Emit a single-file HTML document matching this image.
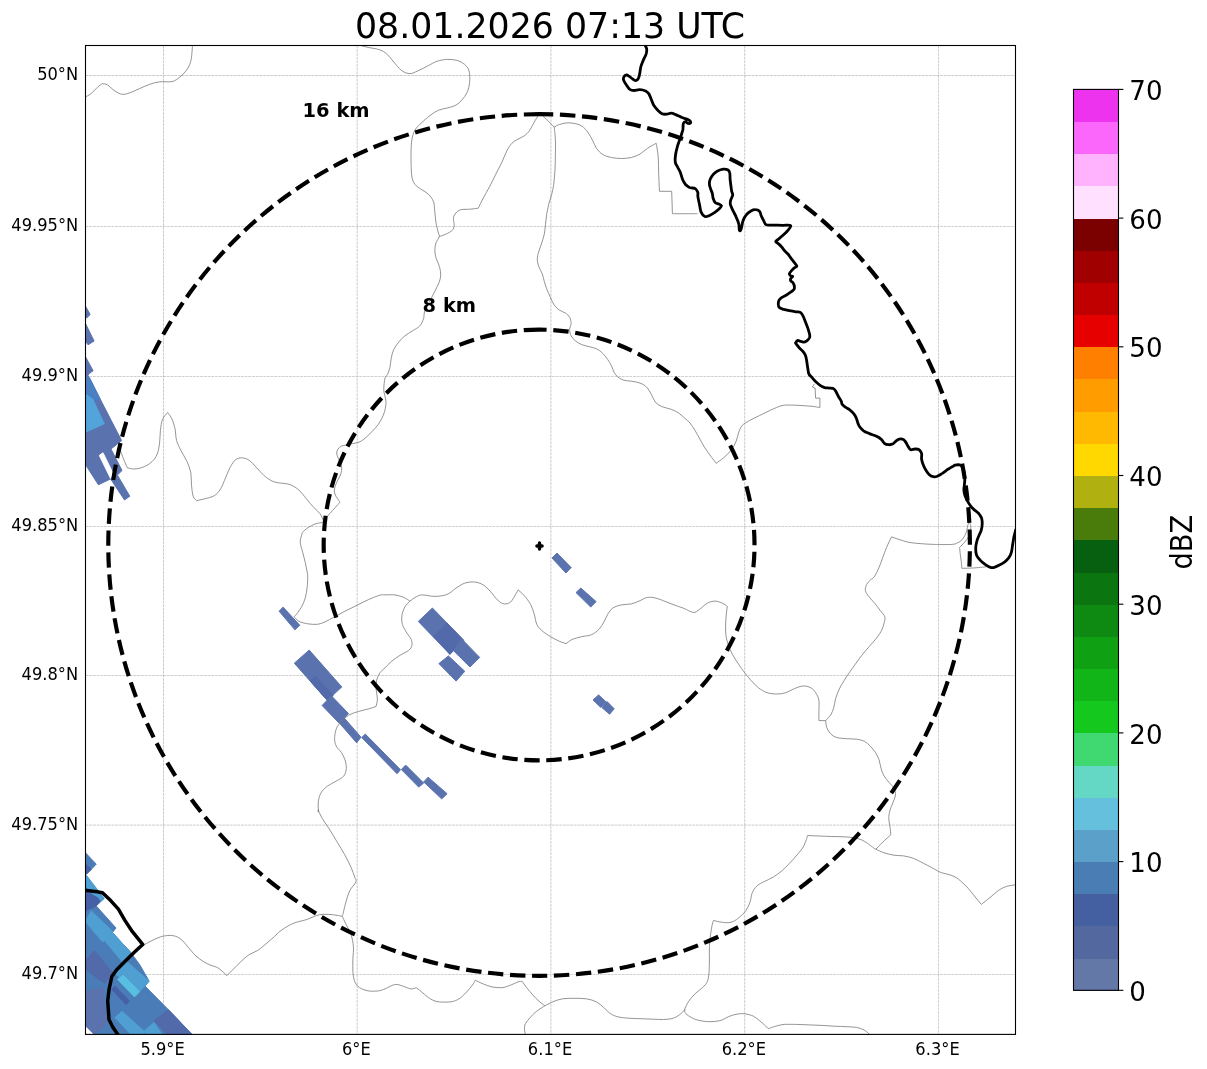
<!DOCTYPE html>
<html><head><meta charset="utf-8"><title>Radar 08.01.2026 07:13 UTC</title>
<style>
html,body{margin:0;padding:0;background:#fff;}
body{width:1207px;height:1069px;overflow:hidden;}
svg{display:block}
text{font-family:"DejaVu Sans","Liberation Sans",sans-serif;fill:#000}
.tk{font-size:18px}
.cb{font-size:27.3px}
.ring{fill:none;stroke:#000;stroke-width:4.17;stroke-dasharray:15.42 6.67}
.adm{fill:none;stroke:#787878;stroke-width:0.8;stroke-linejoin:round}
.nat{fill:none;stroke:#000;stroke-width:2.8;stroke-linejoin:round;stroke-linecap:butt}
.grid{stroke:#a4a4a4;stroke-width:0.7;stroke-dasharray:2.9 0.8;opacity:.8}
</style></head><body>
<svg width="1207" height="1069" viewBox="0 0 1207 1069">
<rect width="1207" height="1069" fill="#fff"/>
<defs><clipPath id="ax"><rect x="85.5" y="45.5" width="930.0" height="988.9000000000001"/></clipPath></defs>
<g clip-path="url(#ax)">

<line class="grid" x1="163.5" y1="45.5" x2="163.5" y2="1034.4"/>
<line class="grid" x1="357.2" y1="45.5" x2="357.2" y2="1034.4"/>
<line class="grid" x1="550.9" y1="45.5" x2="550.9" y2="1034.4"/>
<line class="grid" x1="744.7" y1="45.5" x2="744.7" y2="1034.4"/>
<line class="grid" x1="938.4" y1="45.5" x2="938.4" y2="1034.4"/>
<line class="grid" x1="85.5" y1="75.5" x2="1015.5" y2="75.5"/>
<line class="grid" x1="85.5" y1="226.4" x2="1015.5" y2="226.4"/>
<line class="grid" x1="85.5" y1="376.4" x2="1015.5" y2="376.4"/>
<line class="grid" x1="85.5" y1="526.4" x2="1015.5" y2="526.4"/>
<line class="grid" x1="85.5" y1="675.4" x2="1015.5" y2="675.4"/>
<line class="grid" x1="85.5" y1="825.1" x2="1015.5" y2="825.1"/>
<line class="grid" x1="85.5" y1="974.4" x2="1015.5" y2="974.4"/>
<polygon points="283.1,607.1 299.8,625.3 294.9,629.8 279.1,611.2" fill="#5a73af" stroke="#5a73af" stroke-width="1.0" stroke-linejoin="round"/>
<polygon points="309.2,650.1 341.8,687.0 327.2,700.3 294.3,663.2" fill="#5a73af" stroke="#5a73af" stroke-width="1.0" stroke-linejoin="round"/>
<polygon points="315.6,676.0 333.2,695.7 327.2,700.3 310.1,680.9" fill="#526aaa" stroke="#526aaa" stroke-width="1.0" stroke-linejoin="round"/>
<polygon points="331.4,695.8 348.5,713.6 339.2,723.2 322.1,705.5" fill="#5a73af" stroke="#5a73af" stroke-width="1.0" stroke-linejoin="round"/>
<polygon points="344.2,717.9 361.0,737.2 356.6,742.8 339.8,723.5" fill="#5a73af" stroke="#5a73af" stroke-width="1.0" stroke-linejoin="round"/>
<polygon points="365.3,734.1 400.5,769.7 397.1,773.8 361.7,737.5" fill="#5a73af" stroke="#5a73af" stroke-width="1.0" stroke-linejoin="round"/>
<polygon points="405.7,765.1 423.7,783.1 418.7,787.1 401.3,769.5" fill="#5a73af" stroke="#5a73af" stroke-width="1.0" stroke-linejoin="round"/>
<polygon points="428.1,777.2 447.1,793.7 441.7,798.9 423.7,781.9" fill="#5a73af" stroke="#5a73af" stroke-width="1.0" stroke-linejoin="round"/>
<polygon points="432.4,608.0 463.8,640.4 449.9,654.3 418.3,621.4" fill="#5a73af" stroke="#5a73af" stroke-width="1.0" stroke-linejoin="round"/>
<polygon points="446.8,622.9 463.3,639.9 449.9,654.3 434.0,636.3" fill="#526aaa" stroke="#526aaa" stroke-width="1.0" stroke-linejoin="round"/>
<polygon points="461.7,638.9 479.7,657.4 470.0,667.0 453.5,650.7" fill="#5a73af" stroke="#5a73af" stroke-width="1.0" stroke-linejoin="round"/>
<polygon points="448.4,655.9 464.8,671.3 456.1,681.1 438.9,663.6" fill="#5a73af" stroke="#5a73af" stroke-width="1.0" stroke-linejoin="round"/>
<polygon points="557.0,553.1 571.2,567.6 565.9,573.0 552.0,558.0" fill="#5a73af" stroke="#5a73af" stroke-width="1.0" stroke-linejoin="round"/>
<polygon points="580.8,588.0 596.1,601.6 590.8,607.1 576.0,592.6" fill="#5a73af" stroke="#5a73af" stroke-width="1.0" stroke-linejoin="round"/>
<polygon points="598.6,694.9 606.3,702.1 600.6,707.3 593.0,699.9" fill="#5a73af" stroke="#5a73af" stroke-width="1.0" stroke-linejoin="round"/>
<polygon points="607.1,701.6 614.2,708.8 609.6,714.2 601.9,707.6" fill="#5a73af" stroke="#5a73af" stroke-width="1.0" stroke-linejoin="round"/>
<polygon points="85.1,305.4 90.1,314.4 87.0,317.8 85.1,317.3" fill="#5a73af" stroke="#5a73af" stroke-width="1.0" stroke-linejoin="round"/>
<polygon points="85.1,322.7 94.1,341.1 88.0,344.8 85.1,340.4" fill="#5a73af" stroke="#5a73af" stroke-width="1.0" stroke-linejoin="round"/>
<polygon points="85.1,355.9 93.1,370.8 89.3,373.4 88.0,375.4 85.1,375.4" fill="#5a73af" stroke="#5a73af" stroke-width="1.0" stroke-linejoin="round"/>
<polygon points="85.0,375.0 88.0,375.4 121.6,440.6 111.0,449.0 122.0,470.5 117.4,475.1 129.8,496.2 124.5,500.0 110.6,478.9 98.4,484.8 85.0,463.8" fill="#5a73af" stroke="#5a73af" stroke-width="1.0" stroke-linejoin="round"/>
<polygon points="85.0,377.5 89.7,378.1 100.6,400.1 92.8,399.1 85.0,393.9" fill="#4a7fc2" stroke="#4a7fc2" stroke-width="1.0" stroke-linejoin="round"/>
<polygon points="85.0,393.9 92.8,399.1 104.3,423.8 85.0,432.4" fill="#52a4da" stroke="#52a4da" stroke-width="1.0" stroke-linejoin="round"/>
<polygon points="99.3,455.4 103.0,452.8 112.7,472.6 110.6,478.5" fill="#ffffff" stroke="#ffffff" stroke-width="1.0" stroke-linejoin="round"/>
<polygon points="85.1,852.3 96.2,864.2 86.6,874.0 85.1,872.9" fill="#4a7db8" stroke="#4a7db8" stroke-width="1.0" stroke-linejoin="round"/>
<polygon points="85.1,863.7 91.3,869.3 86.6,874.0 85.1,872.9" fill="#4560a6" stroke="#4560a6" stroke-width="1.0" stroke-linejoin="round"/>
<polygon points="85.1,875.0 104.1,898.4 96.2,905.9 116.0,928.0 112.4,932.6 130.4,952.1 139.6,964.5 149.1,981.1 145.0,986.1 168.4,1009.7 192.6,1035.0 94.9,1035.0 85.1,1025.2" fill="#4a7db8" stroke="#4a7db8" stroke-width="1.0" stroke-linejoin="round"/>
<polygon points="85.1,875.5 86.6,875.5 104.1,898.4 100.5,901.7 85.1,886.3" fill="#4f9fd2" stroke="#4f9fd2" stroke-width="1.0" stroke-linejoin="round"/>
<polygon points="85.1,891.5 97.4,897.6 100.0,900.7 96.2,905.9 85.1,911.0" fill="#4560a6" stroke="#4560a6" stroke-width="1.0" stroke-linejoin="round"/>
<polygon points="85.1,921.3 91.3,911.0 112.9,931.6 102.6,941.9" fill="#4f9fd2" stroke="#4f9fd2" stroke-width="1.0" stroke-linejoin="round"/>
<polygon points="103.6,939.3 112.9,933.1 130.4,952.1 123.2,962.9" fill="#4f9fd2" stroke="#4f9fd2" stroke-width="1.0" stroke-linejoin="round"/>
<polygon points="126.2,960.9 149.1,981.1 137.6,993.8 114.9,973.2" fill="#4f9fd2" stroke="#4f9fd2" stroke-width="1.0" stroke-linejoin="round"/>
<polygon points="123.2,975.3 139.6,991.7 134.5,996.9 117.5,979.4" fill="#58bfe0" stroke="#58bfe0" stroke-width="1.0" stroke-linejoin="round"/>
<polygon points="114.9,986.1 129.3,1001.0 126.2,1004.6 111.8,989.7" fill="#4560a6" stroke="#4560a6" stroke-width="1.0" stroke-linejoin="round"/>
<polygon points="154.0,1020.6 168.4,1009.7 192.6,1035.0 167.4,1035.0" fill="#526aaa" stroke="#526aaa" stroke-width="1.0" stroke-linejoin="round"/>
<polygon points="122.1,1011.3 144.8,1031.9 142.2,1035.0 131.4,1035.0 114.9,1017.5" fill="#4f9fd2" stroke="#4f9fd2" stroke-width="1.0" stroke-linejoin="round"/>
<polygon points="143.7,1031.4 154.0,1022.6 161.2,1032.9 160.2,1035.0 146.8,1035.0" fill="#4f9fd2" stroke="#4f9fd2" stroke-width="1.0" stroke-linejoin="round"/>
<polygon points="85.1,991.7 102.6,987.6 107.7,1022.6 94.9,1035.0 85.1,1025.2" fill="#5a73af" stroke="#5a73af" stroke-width="1.0" stroke-linejoin="round"/>
<polygon points="85.1,960.9 94.3,950.6 112.9,973.2 104.6,983.5 85.1,969.1" fill="#526aaa" stroke="#526aaa" stroke-width="1.0" stroke-linejoin="round"/>
<path class="adm" d="M85.0,97.3C86.0,96.6 89.1,95.2 91.2,93.5C93.3,91.9 95.6,89.0 97.4,87.3C99.3,85.6 101.6,84.2 102.4,83.6C103.2,83.8 105.3,83.6 107.4,84.8C109.5,86.1 112.4,89.5 114.9,91.0C117.3,92.6 119.8,94.0 122.3,94.3C124.8,94.6 126.9,93.7 129.8,92.8C132.7,91.8 136.4,90.0 139.7,88.5C143.1,87.1 146.4,85.4 149.7,84.3C153.0,83.2 155.9,82.3 159.6,81.8C163.4,81.4 168.8,82.3 172.1,81.6C175.4,80.8 177.3,79.1 179.6,77.3C181.8,75.6 184.1,73.2 185.8,71.1C187.4,69.1 188.6,67.2 189.5,64.9C190.5,62.6 191.0,60.8 191.5,57.4C192.0,54.1 192.3,47.1 192.5,45.0"/>
<path class="adm" d="M358.7,45.0C360.4,45.4 365.3,46.7 368.7,47.5C372.0,48.2 375.9,48.6 378.6,49.5C381.3,50.3 383.1,51.1 385.0,52.5C386.9,53.8 388.1,55.4 390.0,57.4C391.8,59.5 394.1,62.6 396.2,64.9C398.3,67.2 400.1,69.7 402.4,71.1C404.7,72.6 407.4,73.6 409.9,73.6C412.4,73.6 414.4,72.4 417.3,71.1C420.3,69.9 424.0,67.8 427.3,66.2C430.6,64.5 433.9,62.3 437.3,61.2C440.6,60.1 443.9,59.6 447.2,59.4C450.5,59.3 454.3,59.6 457.2,60.4C460.1,61.3 462.6,62.6 464.6,64.4C466.6,66.2 468.3,68.1 469.1,71.1C469.9,74.1 469.9,78.8 469.6,82.3C469.3,85.8 468.4,89.4 467.1,92.3C465.9,95.2 464.0,97.6 462.1,99.7C460.3,101.9 458.4,103.8 455.9,105.2C453.4,106.6 450.1,107.1 447.2,108.0C444.3,108.8 441.2,109.1 438.5,110.2C435.8,111.3 433.5,112.9 431.0,114.7C428.5,116.5 426.1,118.6 423.6,120.9C421.1,123.2 418.0,125.7 416.1,128.4C414.2,131.1 413.2,133.5 412.4,137.1C411.5,140.6 411.3,144.9 411.1,149.5C410.9,154.1 411.0,159.9 411.1,164.4C411.3,169.0 411.3,173.6 411.9,176.9C412.5,180.2 413.3,182.3 414.9,184.3C416.4,186.4 418.8,187.7 421.1,189.3C423.4,191.0 426.5,192.2 428.5,194.3C430.6,196.4 432.5,198.9 433.5,201.8C434.6,204.7 434.4,208.2 434.8,211.7C435.2,215.2 435.5,219.6 436.0,222.9C436.5,226.2 437.5,229.3 438.0,231.6C438.5,233.9 439.6,234.7 439.2,236.6C438.9,238.5 436.8,240.5 436.0,242.8C435.3,245.1 434.8,247.8 434.8,250.3C434.8,252.8 435.4,255.5 436.0,257.8C436.6,260.0 437.8,261.7 438.5,264.0C439.2,266.3 440.2,268.9 440.5,271.4C440.8,273.9 440.8,276.4 440.2,278.9C439.7,281.4 438.4,283.9 437.3,286.4C436.1,288.9 434.6,291.8 433.5,293.8C432.5,295.9 432.5,295.9 431.0,298.8C429.6,301.7 426.1,307.7 424.8,311.0C423.6,314.3 424.4,316.0 423.6,318.5C422.7,321.0 421.7,323.9 419.8,325.9C418.0,328.0 414.9,329.2 412.4,330.9C409.9,332.6 407.2,334.0 404.9,335.9C402.6,337.7 400.6,339.8 398.7,342.1C396.8,344.4 395.0,346.9 393.7,349.6C392.5,352.3 391.8,355.4 391.2,358.3C390.6,361.2 390.6,364.3 390.0,367.0C389.4,369.7 388.3,372.6 387.5,374.5C386.7,376.3 385.6,375.6 385.0,378.2C384.4,380.8 383.7,386.4 383.8,390.0C383.9,393.6 385.5,397.5 385.8,400.0C386.1,402.5 386.0,403.3 385.8,405.2C385.6,407.2 385.1,409.6 384.5,411.8C383.8,414.0 382.9,416.2 381.9,418.3C380.8,420.5 379.5,422.8 377.9,424.9C376.4,427.0 374.5,428.8 372.7,430.8C370.8,432.7 368.8,434.9 366.8,436.7C364.8,438.4 362.9,440.2 360.9,441.3C358.9,442.3 356.9,442.8 355.0,443.2C353.1,443.7 351.4,443.5 349.8,443.9C348.1,444.2 346.6,444.8 345.2,445.2C343.8,445.6 342.5,445.4 341.3,446.1C340.1,446.8 338.7,448.0 338.0,449.1C337.2,450.3 336.7,451.6 336.7,453.0C336.7,454.5 337.4,456.2 338.0,457.6C338.5,459.0 339.4,460.2 339.9,461.6C340.5,462.9 341.0,464.0 341.3,465.5C341.5,467.0 341.9,469.0 341.6,470.7C341.4,472.5 340.7,474.2 339.9,476.0C339.2,477.7 338.1,479.5 337.3,481.2C336.5,482.9 335.6,484.7 335.1,486.4C334.6,488.2 334.2,490.0 334.3,491.7C334.5,493.3 335.3,494.8 336.0,496.3C336.7,497.7 338.0,499.2 338.6,500.2C339.3,501.2 339.7,501.8 339.9,502.2C339.2,503.0 337.0,505.5 335.4,507.4C333.7,509.2 331.6,511.6 330.1,513.3C328.6,514.9 327.3,515.9 326.2,517.2C325.1,518.5 324.0,520.5 323.6,521.1"/>
<path class="adm" d="M439.2,236.6C440.4,236.2 443.8,235.1 446.0,234.1C448.1,233.1 450.8,231.8 452.2,230.4C453.6,228.9 454.0,227.5 454.2,225.4C454.4,223.3 453.1,220.0 453.4,217.9C453.7,215.9 454.7,214.3 455.9,213.0C457.2,211.6 458.6,210.3 460.9,209.7C463.2,209.1 466.7,209.5 469.6,209.2C472.5,209.0 476.9,208.4 478.3,208.2C479.1,206.5 481.4,201.6 483.3,198.0C485.2,194.5 487.4,190.8 489.5,186.8C491.6,182.9 493.7,178.5 495.7,174.4C497.8,170.2 500.1,165.9 502.0,162.0C503.8,158.0 505.3,153.9 506.9,150.8C508.6,147.6 510.0,145.2 511.9,143.3C513.8,141.3 516.1,140.3 518.1,139.1C520.2,137.8 522.5,137.2 524.3,135.8C526.2,134.5 527.7,133.1 529.3,130.8C531.0,128.6 532.8,124.6 534.3,122.1C535.7,119.6 537.0,117.4 538.0,115.9C539.1,114.5 540.1,113.8 540.5,113.4C541.6,114.5 544.5,117.4 546.7,119.6C549.0,121.9 553.0,125.9 554.2,127.1"/>
<path class="adm" d="M554.2,127.1C555.0,126.7 557.1,125.3 559.2,124.6C561.3,123.9 564.2,123.1 566.6,122.9C569.1,122.7 571.6,122.9 574.1,123.4C576.6,123.9 579.3,124.4 581.6,125.9C583.9,127.3 585.9,129.6 587.8,132.1C589.7,134.6 591.3,138.1 592.8,140.8C594.2,143.5 594.8,146.0 596.5,148.3C598.2,150.5 600.2,153.0 602.7,154.5C605.2,156.0 608.3,156.8 611.4,157.5C614.5,158.1 618.1,158.5 621.4,158.5C624.7,158.5 628.2,158.2 631.3,157.5C634.5,156.7 637.4,155.5 640.1,154.0C642.7,152.5 644.8,150.0 647.5,148.3C650.2,146.5 654.8,144.1 656.2,143.3C656.6,145.6 657.8,151.8 658.2,157.0C658.6,162.2 658.5,168.7 658.7,174.4C658.9,180.1 659.3,188.5 659.5,191.3L671.7,191.3L672.4,213.7C674.5,213.7 680.9,213.7 685.1,213.7C689.3,213.7 695.4,213.7 697.5,213.7"/>
<path class="adm" d="M554.2,127.1C554.4,129.2 555.2,135.0 555.4,139.6C555.7,144.1 555.5,149.5 555.4,154.5C555.4,159.5 555.2,164.4 555.0,169.4C554.7,174.4 554.2,180.2 553.7,184.3C553.2,188.5 552.5,191.0 551.7,194.3C550.9,197.6 549.6,200.9 548.7,204.3C547.9,207.6 547.3,210.9 546.7,214.2C546.2,217.5 545.9,220.8 545.5,224.2C545.1,227.5 544.9,231.0 544.3,234.1C543.6,237.2 542.7,239.9 541.8,242.8C540.9,245.7 539.5,248.8 538.8,251.5C538.0,254.2 537.3,256.5 537.3,259.0C537.3,261.5 537.9,264.0 538.8,266.5C539.6,268.9 541.3,271.4 542.3,273.9C543.2,276.4 543.5,278.9 544.3,281.4C545.0,283.9 545.7,286.2 546.7,288.9C547.8,291.5 549.2,294.9 550.5,297.6C551.7,300.3 552.8,303.0 554.2,305.0C555.7,307.1 557.3,308.7 559.2,310.0C561.0,311.3 563.7,311.8 565.4,313.0C567.1,314.2 568.7,315.5 569.6,317.2C570.6,319.0 571.1,321.4 571.1,323.4C571.1,325.5 569.6,327.6 569.6,329.7C569.6,331.7 570.2,334.0 571.1,335.9C572.1,337.7 573.6,339.4 575.4,340.9C577.1,342.3 579.3,343.6 581.6,344.6C583.9,345.5 586.6,345.9 589.0,346.6C591.5,347.3 594.2,347.7 596.5,348.8C598.8,349.9 600.9,351.5 602.7,353.3C604.6,355.1 606.3,357.4 607.7,359.5C609.2,361.6 610.4,363.7 611.4,365.7C612.5,367.8 612.9,370.1 613.9,372.0C615.0,373.8 616.0,375.6 617.7,376.9C619.3,378.3 621.6,379.5 623.9,380.2C626.2,380.9 628.9,380.8 631.3,381.2C633.8,381.6 636.5,381.9 638.8,382.7C641.1,383.4 643.3,384.3 645.0,385.6C646.8,387.0 648.0,388.8 649.3,390.6C650.5,392.5 651.3,394.8 652.5,396.8C653.7,398.9 654.6,401.4 656.2,403.1C657.9,404.7 660.0,405.8 662.4,406.8C664.9,407.8 668.5,408.3 671.2,409.3C673.9,410.3 676.3,411.5 678.6,413.0C680.9,414.6 683.2,416.8 685.1,418.5C687.0,420.2 688.3,421.0 690.0,423.0C691.6,425.0 693.3,427.7 695.0,430.4C696.6,433.1 698.3,436.2 699.9,439.1C701.6,442.1 703.0,445.0 704.9,447.9C706.8,450.8 709.3,454.0 711.1,456.6C713.0,459.1 715.3,462.2 716.1,463.3C717.3,462.4 721.1,460.0 723.6,457.8C726.1,455.7 729.0,453.0 731.0,450.3C733.1,447.6 734.8,444.5 736.0,441.6C737.3,438.7 737.5,435.6 738.5,432.9C739.5,430.2 740.4,427.5 742.2,425.5C744.1,423.4 746.8,422.1 749.7,420.5C752.6,418.8 756.1,417.3 759.6,415.5C763.2,413.8 767.1,411.7 770.8,410.0C774.6,408.4 778.5,406.4 782.0,405.6C785.6,404.7 788.7,405.1 792.0,405.1C795.3,405.1 798.6,405.3 802.0,405.6C805.3,405.8 808.9,406.0 811.9,406.3C814.9,406.6 818.5,407.3 819.9,407.5L819.9,398.1L815.6,398.1L815.1,388.1L812.4,386.9L814.4,383.9"/>
<path class="adm" d="M119.8,449.1C120.5,450.8 122.3,455.9 123.6,459.1C124.8,462.2 126.7,466.3 127.3,467.8C128.5,468.0 131.9,469.2 134.8,469.0C137.7,468.8 141.8,467.8 144.7,466.5C147.6,465.3 150.1,463.6 152.2,461.5C154.3,459.5 155.9,457.2 157.2,454.1C158.4,451.0 159.1,446.8 159.6,442.9C160.2,438.9 159.9,434.4 160.4,430.4C160.9,426.5 161.4,422.2 162.6,419.2C163.8,416.3 166.8,413.6 167.6,412.5C168.4,413.6 170.8,416.5 172.1,419.2C173.3,422.0 174.3,425.7 175.1,429.2C175.8,432.7 175.6,436.9 176.6,440.4C177.5,443.9 179.1,446.8 180.8,450.3C182.5,453.9 185.4,457.8 187.0,461.5C188.7,465.3 190.0,468.8 190.8,472.7C191.5,476.7 191.1,481.2 191.5,485.2C191.9,489.1 192.4,493.8 193.2,496.4C194.1,499.0 195.9,499.9 196.5,500.6C197.8,500.3 201.5,499.7 204.4,498.9C207.4,498.0 211.7,497.3 214.4,495.6C217.1,494.0 218.7,491.9 220.6,488.9C222.5,485.9 223.9,481.4 225.6,477.7C227.2,474.0 228.9,469.5 230.6,466.5C232.2,463.5 233.7,461.3 235.5,459.8C237.4,458.3 239.5,457.7 241.8,457.8C244.0,457.9 246.7,458.6 249.2,460.3C251.7,462.0 254.2,465.2 256.7,467.8C259.2,470.3 261.5,473.4 264.2,475.7C266.9,478.0 270.0,480.2 272.9,481.4C275.8,482.7 278.7,482.7 281.6,483.2C284.5,483.7 287.4,483.5 290.3,484.7C293.2,485.8 296.3,487.8 299.0,490.2C301.7,492.5 304.0,496.0 306.5,498.9C308.9,501.8 311.6,505.1 313.9,507.6C316.2,510.1 318.5,511.5 320.1,513.8C321.8,516.1 323.0,519.9 323.6,521.1"/>
<path class="adm" d="M323.6,521.1C323.4,521.4 323.6,522.0 322.3,522.5C321.0,522.9 318.1,522.9 315.7,523.8C313.3,524.6 310.0,526.3 307.9,527.7C305.7,529.1 303.6,531.3 302.6,532.3C301.6,533.3 302.4,532.0 302.0,533.7C301.6,535.4 300.1,539.3 300.2,542.4C300.4,545.5 301.9,549.0 302.7,552.4C303.6,555.7 304.5,559.2 305.2,562.3C305.9,565.4 306.5,568.6 307.0,571.0C307.4,573.5 307.7,574.3 307.7,577.0C307.7,579.7 307.6,583.4 307.2,587.0C306.8,590.5 306.2,594.8 305.2,598.2C304.3,601.5 302.9,604.2 301.5,606.9C300.0,609.6 297.8,612.7 296.5,614.3C295.3,616.0 294.4,616.4 294.0,616.8C294.8,617.6 296.7,620.1 299.0,621.3C301.3,622.5 304.6,623.3 307.7,623.8C310.8,624.3 314.8,624.6 317.7,624.3C320.6,623.9 322.4,623.0 325.1,621.8C327.8,620.6 330.7,619.0 333.8,617.3C336.9,615.7 340.5,613.6 343.8,611.8C347.1,610.1 350.4,608.5 353.7,606.9C357.1,605.2 360.4,603.5 363.7,601.9C367.0,600.3 370.7,598.6 373.6,597.4C376.5,596.2 379.2,595.3 381.1,594.9C383.0,594.5 382.7,594.9 385.0,594.9C387.3,594.9 391.8,594.5 395.0,594.9C398.1,595.3 401.2,596.4 403.7,597.4C406.2,598.4 408.8,600.5 409.9,601.1C410.9,600.4 414.0,597.9 416.1,596.9C418.2,595.9 419.2,595.0 422.3,594.9C425.4,594.8 430.6,596.5 434.8,596.4C438.9,596.3 443.7,595.8 447.2,594.4C450.7,593.0 453.0,590.1 455.9,588.2C458.8,586.3 461.5,584.3 464.6,583.2C467.7,582.2 471.5,581.7 474.6,582.0C477.7,582.3 480.6,583.3 483.3,585.0C486.0,586.6 488.3,589.3 490.8,591.9C493.2,594.5 495.9,598.6 498.2,600.6C500.5,602.6 502.4,603.7 504.4,603.9C506.5,604.1 508.8,603.5 510.7,601.9C512.5,600.3 514.4,596.4 515.6,594.4C516.9,592.4 517.7,590.7 518.1,589.9C519.2,590.9 522.3,593.3 524.3,595.7C526.4,598.1 528.9,601.3 530.6,604.4C532.2,607.5 533.3,611.0 534.3,614.3C535.3,617.6 535.5,621.6 536.8,624.3C538.0,627.0 539.5,628.4 541.8,630.5C544.0,632.6 547.6,634.9 550.5,636.7C553.4,638.5 556.6,640.0 559.2,641.2C561.8,642.4 565.0,643.3 566.1,643.7C567.1,643.0 569.1,640.9 571.6,639.7C574.2,638.5 578.3,637.5 581.6,636.7C584.9,635.9 588.6,636.0 591.5,634.7C594.4,633.5 596.9,631.4 599.0,629.3C601.1,627.1 602.5,624.3 604.0,621.8C605.4,619.3 606.3,616.6 607.7,614.3C609.2,612.0 610.4,609.7 612.7,608.1C615.0,606.5 618.3,605.6 621.4,604.9C624.5,604.2 628.2,604.6 631.3,603.9C634.5,603.2 637.4,601.7 640.1,600.6C642.7,599.6 644.8,597.8 647.5,597.4C650.2,597.0 653.1,597.4 656.2,598.2C659.3,598.9 662.9,600.6 666.2,601.9C669.5,603.1 673.0,604.5 676.1,605.6C679.3,606.8 682.8,607.9 685.1,608.9C687.4,609.8 688.3,610.8 690.0,611.3C691.6,611.9 693.1,612.9 695.0,612.3C696.8,611.8 699.1,609.6 701.2,608.1C703.2,606.6 705.1,604.3 707.4,603.1C709.7,602.0 712.4,601.1 714.9,601.1C717.3,601.1 720.3,602.3 722.3,603.1C724.4,604.0 726.5,605.8 727.3,606.4C727.1,608.1 726.3,613.4 726.1,616.8C725.8,620.2 725.6,623.4 725.6,626.8C725.6,630.1 725.6,633.6 726.1,636.7C726.6,639.8 727.5,642.5 728.5,645.4C729.6,648.3 730.6,651.0 732.3,654.1C733.9,657.2 736.4,661.0 738.5,664.1C740.6,667.2 742.6,670.1 744.7,672.8C746.8,675.5 748.7,677.8 750.9,680.3C753.2,682.8 755.7,685.7 758.4,687.7C761.1,689.8 764.0,691.7 767.1,692.7C770.2,693.7 774.0,694.0 777.1,694.0C780.2,694.0 782.9,693.6 785.8,692.7C788.7,691.8 791.6,689.6 794.5,688.5C797.4,687.4 800.5,686.1 803.2,686.0C805.9,685.9 808.6,686.6 810.7,687.7C812.7,688.8 814.3,690.6 815.6,692.7C817.0,694.8 818.3,697.1 818.9,700.2C819.4,703.3 818.9,708.0 818.9,711.4C818.9,714.8 818.9,719.0 818.9,720.6L825.6,720.6"/>
<path class="adm" d="M409.9,601.1C409.1,602.1 406.2,604.5 404.9,606.9C403.6,609.3 402.3,612.7 401.9,615.6C401.5,618.5 401.6,621.4 402.4,624.3C403.2,627.2 405.4,630.5 406.9,633.0C408.3,635.5 410.3,637.1 411.1,639.2C412.0,641.3 412.3,643.6 411.9,645.4C411.5,647.3 410.6,648.7 408.6,650.4C406.6,652.1 402.8,653.5 399.9,655.4C397.0,657.2 393.7,659.5 391.2,661.6C388.7,663.7 386.9,666.0 385.0,667.8C383.1,669.7 381.3,670.7 379.9,672.8C378.5,674.9 377.3,677.6 376.6,680.3C376.0,683.0 376.0,685.9 376.1,689.0C376.3,692.1 377.4,696.0 377.4,698.9C377.4,701.8 376.3,705.1 376.1,706.4C374.9,706.8 371.6,708.1 368.7,708.9C365.8,709.7 362.0,710.3 358.7,711.4C355.4,712.4 351.7,713.4 348.8,715.1C345.9,716.8 343.4,719.0 341.3,721.3C339.2,723.6 337.4,725.9 336.3,728.8C335.2,731.7 334.6,735.8 334.6,738.7C334.6,741.6 335.2,743.9 336.3,746.2C337.4,748.5 339.8,750.1 341.3,752.4C342.7,754.7 344.2,757.2 345.0,759.9C345.9,762.6 346.5,765.9 346.3,768.6C346.1,771.3 345.4,774.0 343.8,776.1C342.1,778.1 339.0,779.4 336.3,781.0C333.6,782.7 330.1,784.2 327.6,786.0C325.1,787.9 322.9,789.8 321.4,792.2C319.9,794.7 318.9,797.6 318.4,800.9C317.9,804.3 318.4,810.3 318.4,812.1L318.1,809.9C318.8,811.4 320.4,815.3 322.4,818.6C324.3,822.0 327.3,825.9 329.8,829.8C332.3,833.8 334.8,838.1 337.3,842.3C339.8,846.4 342.5,850.5 344.7,854.7C347.0,858.8 349.3,863.4 350.9,867.1C352.6,870.8 353.8,874.6 354.7,877.1C355.5,879.5 356.7,879.7 355.9,882.0C355.1,884.3 351.4,887.4 349.7,890.7C348.0,894.0 347.0,898.4 346.0,901.9C344.9,905.4 344.1,909.4 343.5,911.8C342.9,914.3 342.5,915.6 342.2,916.3"/>
<path class="adm" d="M825.6,720.6C826.4,719.7 829.2,717.3 830.6,715.1C831.9,712.9 833.0,710.3 833.8,707.6C834.6,704.9 834.6,702.0 835.5,698.9C836.5,695.8 837.8,692.1 839.3,689.0C840.7,685.9 842.6,683.0 844.3,680.3C845.9,677.6 847.4,675.5 849.2,672.8C851.1,670.1 853.4,667.0 855.4,664.1C857.5,661.2 859.4,658.3 861.7,655.4C864.0,652.5 866.6,649.6 869.1,646.7C871.6,643.8 874.5,640.7 876.6,638.0C878.7,635.3 880.3,633.0 881.6,630.5C882.8,628.0 883.5,625.3 884.1,623.0C884.6,620.8 885.4,618.9 884.8,616.8C884.2,614.7 882.0,612.9 880.3,610.6C878.6,608.3 876.5,605.4 874.6,603.1C872.7,600.8 870.7,599.0 869.1,596.9C867.6,594.8 865.8,592.8 865.4,590.7C865.0,588.6 865.8,586.2 866.6,584.5C867.5,582.7 869.1,581.2 870.4,580.0C871.6,578.7 872.7,579.1 874.1,577.0C875.6,574.9 877.6,570.6 879.1,567.3C880.5,564.0 881.6,560.7 882.8,557.3C884.1,554.0 885.1,550.8 886.6,547.4C888.0,544.0 890.7,538.7 891.5,536.9C892.8,537.4 896.1,538.5 899.0,539.4C901.9,540.3 905.2,541.7 908.9,542.4C912.7,543.1 917.2,543.3 921.4,543.7C925.5,544.0 930.8,544.3 933.8,544.4C936.8,544.5 936.2,544.5 939.3,544.5C942.4,544.5 949.3,544.7 952.4,544.4C955.4,544.1 956.1,543.5 957.6,542.8C959.2,542.1 960.4,541.4 961.6,540.2C962.8,539.0 964.0,537.2 964.8,535.6C965.7,534.0 966.3,532.1 966.8,530.4C967.3,528.6 967.4,526.4 967.8,525.1C968.2,523.9 968.9,523.2 969.1,522.8C969.4,523.1 970.2,523.4 970.5,524.5C970.7,525.5 970.9,527.4 970.7,529.1C970.5,530.7 970.1,532.5 969.4,534.3C968.8,536.0 967.9,537.9 966.8,539.5C965.7,541.2 964.1,542.8 962.9,544.1C961.7,545.4 960.1,546.8 959.6,547.4C959.7,548.5 960.0,551.5 960.2,553.9C960.5,556.3 961.0,559.4 961.3,561.8C961.6,564.2 961.7,567.3 961.8,568.3C963.7,568.3 969.2,568.2 973.3,568.0C977.4,567.7 984.3,567.0 986.4,566.8"/>
<path class="adm" d="M825.6,720.6C825.8,721.7 826.0,725.3 826.8,727.5C827.7,729.7 828.9,732.1 830.6,733.8C832.2,735.4 834.1,736.7 836.8,737.5C839.5,738.3 843.4,738.4 846.7,738.7C850.1,739.0 853.8,738.8 856.7,739.2C859.6,739.7 861.9,740.1 864.2,741.2C866.4,742.4 868.5,744.3 870.4,746.2C872.2,748.1 873.9,750.1 875.4,752.4C876.8,754.7 878.1,757.2 879.1,759.9C880.0,762.6 880.2,765.9 881.1,768.6C881.9,771.3 882.7,773.8 884.1,776.1C885.4,778.3 887.4,780.2 889.0,782.3C890.7,784.4 893.0,786.2 894.0,788.5C895.1,790.8 895.9,792.4 895.3,796.0C894.6,799.5 891.1,806.2 890.1,809.9C889.0,813.7 888.8,815.7 888.8,818.6C888.8,821.5 889.7,824.6 890.1,827.3C890.4,830.0 890.7,833.6 890.8,834.8C889.4,836.0 885.1,839.9 882.6,842.3C880.1,844.7 877.0,848.1 875.9,849.2"/>
<path class="adm" d="M685.0,1008.3C685.6,1007.1 687.1,1003.7 688.7,1001.3C690.4,998.9 692.7,996.1 694.9,993.9C697.2,991.6 700.3,989.7 702.4,987.7C704.5,985.6 706.3,984.1 707.4,981.4C708.5,978.7 708.8,975.2 709.1,971.5C709.4,967.8 709.3,963.2 709.4,959.1C709.4,954.9 709.2,950.8 709.4,946.6C709.6,942.5 710.1,937.9 710.6,934.2C711.1,930.5 711.8,926.6 712.3,924.3C712.8,922.0 713.4,921.2 713.6,920.5C715.0,920.8 719.4,922.0 722.3,922.3C725.2,922.6 728.3,923.0 731.0,922.3C733.7,921.6 736.0,920.0 738.4,918.1C740.9,916.1 743.9,913.3 745.9,910.6C747.8,907.9 749.1,904.8 750.1,901.9C751.2,899.0 750.9,895.9 752.1,893.2C753.3,890.5 755.0,887.7 757.1,885.7C759.2,883.8 761.8,883.0 764.5,881.5C767.2,880.1 770.3,878.8 773.2,877.1C776.1,875.3 779.2,873.1 781.9,870.8C784.6,868.6 786.9,866.0 789.4,863.4C791.9,860.8 794.6,857.9 796.8,855.2C799.1,852.5 801.5,849.8 803.1,847.2C804.6,844.7 805.5,841.7 806.3,839.8C807.0,837.8 807.3,836.2 807.5,835.5C809.5,835.6 815.2,835.9 819.2,836.0C823.2,836.2 827.5,836.4 831.6,836.5C835.8,836.7 840.3,836.6 844.1,836.8C847.8,837.0 851.1,837.3 854.0,837.8C856.9,838.3 859.2,838.8 861.5,839.8C863.7,840.7 865.8,842.3 867.7,843.5C869.5,844.7 871.3,846.3 872.7,847.2C874.0,848.2 874.0,848.3 875.9,849.2C877.8,850.1 880.9,851.7 883.8,852.7C886.8,853.7 890.5,854.6 893.8,855.2C897.1,855.7 900.4,855.4 903.7,855.9C907.0,856.5 910.4,857.2 913.7,858.4C917.0,859.7 920.6,861.9 923.6,863.4C926.6,864.9 928.6,865.9 931.4,867.4C934.2,868.8 937.8,871.2 940.4,872.3C943.0,873.4 944.7,873.3 947.1,874.1C949.6,874.8 952.6,875.5 955.0,876.8C957.4,878.1 959.5,880.0 961.7,881.9C964.0,883.9 966.2,886.2 968.5,888.7C970.7,891.2 973.1,894.4 975.2,897.0C977.3,899.6 980.3,903.2 981.3,904.4C982.7,903.3 986.9,900.0 989.8,897.7C992.7,895.3 996.0,892.1 998.8,890.3C1001.6,888.4 1003.6,887.4 1006.6,886.4C1009.6,885.5 1015.1,884.9 1016.7,884.6"/>
<path class="adm" d="M685.0,1008.3C685.0,1009.0 684.2,1011.1 685.0,1012.5C685.8,1013.9 687.9,1015.5 690.0,1016.7C692.0,1018.0 694.3,1019.1 697.4,1020.0C700.5,1020.8 704.9,1021.6 708.6,1021.7C712.3,1021.8 716.5,1021.5 719.8,1020.7C723.1,1019.9 725.8,1017.8 728.5,1016.7C731.2,1015.7 733.3,1014.7 736.0,1014.3C738.6,1013.8 741.8,1013.4 744.7,1013.8C747.6,1014.1 750.9,1015.1 753.4,1016.2C755.8,1017.4 757.7,1019.3 759.6,1020.7C761.4,1022.2 763.1,1023.6 764.5,1024.9C766.0,1026.3 767.6,1028.0 768.3,1028.7C769.5,1028.3 773.0,1026.9 775.7,1026.2C778.4,1025.5 780.9,1024.7 784.4,1024.4C787.9,1024.2 792.7,1024.4 796.8,1024.4C801.0,1024.5 805.1,1024.8 809.3,1024.9C813.4,1025.1 817.6,1025.2 821.7,1025.4C825.8,1025.6 830.0,1026.0 834.1,1026.2C838.3,1026.4 842.8,1026.5 846.6,1026.7C850.3,1026.9 853.6,1026.9 856.5,1027.4C859.4,1028.0 861.7,1028.7 864.0,1029.9C866.2,1031.2 869.1,1034.1 870.2,1034.9"/>
<path class="adm" d="M142.7,945.7C144.1,944.9 148.1,942.5 151.1,941.0C154.1,939.6 157.3,937.8 160.4,936.9C163.6,936.0 167.0,935.4 169.8,935.4C172.6,935.4 175.1,936.0 177.3,936.9C179.5,937.8 181.0,939.3 182.9,941.0C184.8,942.8 186.3,945.1 188.5,947.6C190.7,950.1 193.5,953.7 196.0,956.0C198.5,958.3 201.0,960.0 203.5,961.6C206.0,963.2 208.5,964.3 211.0,965.4C213.5,966.4 215.8,966.4 218.4,968.2C221.1,969.9 225.5,974.4 226.9,975.6C228.0,974.5 231.1,971.4 233.4,969.1C235.8,966.8 238.4,963.9 240.9,961.6C243.4,959.3 245.6,956.9 248.4,955.1C251.2,953.2 254.6,952.4 257.7,950.4C260.9,948.4 264.3,945.2 267.1,942.9C269.9,940.6 272.4,938.3 274.6,936.4C276.7,934.4 277.6,933.1 280.0,931.3C282.4,929.5 286.1,927.0 288.8,925.5C291.5,924.0 293.2,923.3 296.3,922.3C299.4,921.3 304.1,920.4 307.5,919.3C310.8,918.2 313.5,916.4 316.2,915.6C318.8,914.7 320.7,914.5 323.6,914.3C326.5,914.2 330.4,914.5 333.6,914.8C336.7,915.2 340.8,916.1 342.2,916.3C342.9,917.6 344.5,921.3 346.0,924.3C347.4,927.3 349.7,930.5 350.9,934.2C352.2,937.9 353.1,942.5 353.4,946.6C353.8,950.8 353.0,954.9 352.9,959.1C352.9,963.2 352.6,967.8 352.9,971.5C353.2,975.2 353.6,978.7 354.7,981.4C355.8,984.1 357.4,986.1 359.6,987.7C361.9,989.2 365.2,990.3 368.3,990.9C371.5,991.4 375.5,991.2 378.3,990.9C381.1,990.6 383.1,989.6 385.0,988.9C386.9,988.2 388.1,987.2 390.0,986.4C391.8,985.7 393.9,984.4 396.2,984.4C398.5,984.4 401.2,985.7 403.6,986.4C406.1,987.2 409.0,988.7 411.1,988.9C413.2,989.1 415.2,987.9 416.1,987.7C416.9,988.3 419.0,989.7 421.0,991.4C423.1,993.0 426.0,995.9 428.5,997.6C431.0,999.3 433.3,1000.6 436.0,1001.3C438.6,1002.1 441.8,1002.1 444.7,1002.1C447.6,1002.1 450.7,1002.1 453.4,1001.3C456.0,1000.6 458.3,999.5 460.8,997.6C463.3,995.7 466.2,992.4 468.3,990.1C470.3,987.9 472.1,985.6 473.2,983.9C474.4,982.3 474.9,980.8 475.2,980.2C476.5,980.8 480.4,982.8 483.2,983.9C486.0,985.0 488.8,986.3 491.9,986.9C495.0,987.5 498.7,987.9 501.8,987.7C504.9,987.4 507.8,986.1 510.5,985.2C513.2,984.2 516.0,982.6 518.0,981.9C519.9,981.3 521.5,981.5 522.2,981.4C522.9,982.5 524.9,985.4 526.7,987.7C528.5,989.9 530.8,992.8 532.9,995.1C535.0,997.4 537.1,999.5 539.1,1001.3C541.1,1003.1 543.9,1005.1 544.8,1005.8C546.4,1005.1 551.0,1002.5 554.0,1001.3C557.0,1000.2 559.4,999.3 562.7,998.8C566.0,998.3 570.0,998.3 573.9,998.3C577.8,998.3 582.6,998.3 586.3,998.8C590.1,999.4 593.4,1000.4 596.3,1001.8C599.2,1003.3 601.4,1005.6 603.7,1007.5C606.0,1009.4 607.7,1011.7 609.9,1013.3C612.2,1014.8 614.3,1015.9 617.4,1016.7C620.5,1017.6 624.6,1017.9 628.6,1018.2C632.5,1018.6 636.9,1018.6 641.0,1018.7C645.1,1018.9 649.7,1019.1 653.4,1019.2C657.2,1019.3 660.1,1019.6 663.4,1019.5C666.7,1019.3 670.4,1019.2 673.3,1018.2C676.2,1017.3 678.8,1015.2 680.8,1013.8C682.7,1012.3 684.3,1010.0 685.0,1009.3"/>
<path class="adm" d="M544.8,1005.8C543.5,1006.7 539.2,1009.1 536.6,1011.3C534.0,1013.4 531.1,1016.4 529.2,1018.7C527.2,1021.0 525.7,1022.9 524.9,1024.9C524.2,1027.0 524.5,1029.3 524.7,1031.2C524.9,1033.0 525.7,1035.3 525.9,1036.1"/>
<path class="nat" d="M645.1,45.0C645.3,45.7 646.6,47.6 646.7,49.1C646.9,50.6 646.6,52.3 646.1,54.1C645.5,55.9 644.3,57.8 643.4,59.9C642.6,62.0 641.5,64.3 640.9,66.5C640.3,68.7 640.2,71.2 639.8,73.1C639.4,75.1 639.1,77.2 638.4,78.4C637.8,79.7 636.8,80.7 635.6,80.6C634.5,80.5 632.9,79.0 631.5,78.1C630.1,77.2 628.5,75.5 627.3,75.1C626.2,74.8 625.0,75.3 624.4,76.1C623.7,76.9 623.2,78.3 623.5,79.8C623.8,81.2 625.1,83.1 626.2,84.7C627.2,86.3 628.5,88.4 629.8,89.4C631.1,90.3 632.3,90.5 634.0,90.5C635.6,90.6 637.8,89.6 639.8,89.7C641.7,89.8 644.0,90.3 645.6,91.0C647.1,91.7 647.9,92.4 648.9,93.9C649.8,95.3 650.5,97.7 651.4,99.7C652.2,101.6 652.7,103.7 653.9,105.5C655.0,107.2 656.6,109.0 658.0,110.4C659.4,111.8 660.8,113.1 662.1,113.7C663.5,114.4 664.8,114.3 666.3,114.2C667.8,114.2 669.6,113.1 671.3,113.2C672.9,113.3 674.4,114.2 676.2,114.9C678.0,115.6 680.1,116.8 682.0,117.5C684.0,118.3 686.4,118.9 687.8,119.5C689.2,120.1 689.9,120.6 690.3,121.2C690.7,121.8 690.7,122.8 690.3,123.2C689.9,123.5 688.6,123.6 687.8,123.3C687.0,123.1 686.1,121.6 685.3,121.7C684.6,121.7 683.8,122.4 683.3,123.7C682.9,125.0 683.2,127.5 682.9,129.5C682.5,131.4 681.8,133.3 681.2,135.3C680.6,137.2 679.9,139.0 679.2,141.1C678.5,143.1 677.7,145.2 677.1,147.7C676.4,150.2 675.7,153.5 675.4,156.0C675.1,158.5 675.0,160.7 675.4,162.6C675.8,164.6 677.1,165.9 677.9,167.6C678.7,169.2 679.6,170.6 680.4,172.6C681.1,174.5 681.7,177.3 682.5,179.2C683.3,181.1 684.2,182.8 685.3,184.2C686.5,185.5 687.8,186.7 689.5,187.5C691.1,188.2 693.9,187.8 695.3,188.6C696.7,189.5 697.3,191.1 697.8,192.4C698.2,193.8 697.6,194.5 697.9,196.6C698.2,198.7 699.0,202.3 699.6,204.9C700.1,207.5 700.3,210.4 701.2,212.4C702.1,214.3 703.6,216.0 704.9,216.5C706.2,217.1 707.3,216.4 709.0,215.7C710.7,215.0 713.0,213.6 714.8,212.4C716.6,211.1 718.7,209.3 719.8,208.2C720.9,207.1 721.6,206.4 721.4,205.7C721.3,205.1 720.0,204.6 718.9,204.1C717.9,203.5 716.1,203.4 715.1,202.4C714.2,201.5 713.6,199.8 713.1,198.3C712.7,196.8 712.7,194.8 712.3,193.3C711.9,191.8 711.2,190.7 710.7,189.1C710.2,187.6 709.4,185.8 709.4,184.2C709.3,182.5 709.5,180.8 710.2,179.2C710.9,177.5 712.3,175.6 713.5,174.2C714.7,172.8 716.0,171.7 717.6,170.9C719.3,170.1 721.8,169.4 723.4,169.2C725.1,169.1 726.5,169.2 727.6,169.7C728.6,170.3 729.3,171.0 729.7,172.6C730.2,174.1 729.9,177.0 730.1,179.2C730.3,181.4 730.6,183.7 730.9,185.8C731.2,187.9 731.4,190.1 731.7,191.6C732.0,193.1 732.9,193.4 732.7,195.0C732.5,196.5 730.9,199.1 730.5,200.8C730.2,202.4 730.1,203.3 730.5,204.9C731.0,206.6 732.1,208.6 733.0,210.7C734.0,212.8 735.4,215.1 736.3,217.3C737.3,219.5 738.3,221.9 738.8,224.0C739.3,226.0 739.0,228.7 739.3,229.8C739.6,230.9 740.1,231.0 740.5,230.6C740.9,230.2 741.2,228.9 741.6,227.3C742.1,225.6 742.2,222.7 743.0,220.7C743.7,218.6 744.9,216.5 746.3,214.9C747.7,213.2 749.7,211.6 751.3,210.7C752.8,209.8 754.0,209.5 755.4,209.6C756.8,209.6 758.6,210.2 759.5,211.2C760.5,212.2 760.5,214.1 761.2,215.7C761.9,217.3 762.9,219.1 763.7,220.7C764.5,222.2 764.6,224.1 766.2,224.8C767.7,225.5 770.0,225.0 772.8,225.1C775.6,225.2 779.8,225.2 782.7,225.3C785.7,225.4 789.9,224.7 790.7,225.6C791.5,226.5 789.0,228.9 787.7,230.6C786.4,232.3 784.4,234.0 782.7,235.6C781.1,237.1 778.9,238.7 777.8,239.7C776.6,240.7 775.6,241.0 775.8,241.7C775.9,242.4 777.6,242.9 778.6,243.9C779.6,244.8 780.9,246.1 781.9,247.2C782.9,248.3 783.4,249.4 784.4,250.5C785.4,251.6 786.7,252.7 787.7,253.8C788.7,254.9 789.4,256.0 790.2,257.1C791.0,258.2 791.8,259.3 792.7,260.4C793.5,261.5 794.5,262.8 795.2,263.7C795.9,264.7 797.0,265.5 796.8,266.2C796.7,266.9 795.2,267.2 794.3,267.9C793.5,268.6 792.7,269.4 791.8,270.4C791.0,271.3 789.6,272.8 789.4,273.7C789.2,274.6 790.1,275.4 790.7,275.8C791.2,276.3 792.7,276.0 792.7,276.5C792.7,277.0 791.0,277.9 790.7,278.6C790.4,279.4 790.3,280.1 790.7,280.8C791.1,281.5 792.4,281.9 793.0,282.8C793.6,283.7 794.2,285.0 794.3,286.1C794.5,287.2 794.6,288.5 794.0,289.4C793.4,290.4 792.2,291.0 791.0,291.9C789.8,292.8 788.4,293.8 786.9,294.7C785.4,295.6 783.2,296.5 781.9,297.4C780.6,298.3 779.7,299.0 779.1,300.2C778.5,301.4 778.2,303.1 778.3,304.3C778.3,305.6 778.5,306.8 779.4,307.6C780.3,308.5 781.9,308.8 783.6,309.3C785.2,309.8 787.3,310.2 789.4,310.6C791.4,311.0 794.2,311.5 796.0,311.8C797.8,312.1 799.0,311.7 800.1,312.3C801.2,312.8 801.8,313.7 802.6,315.1C803.4,316.5 804.3,318.8 805.1,320.9C805.9,323.0 806.8,325.3 807.6,327.5C808.3,329.7 809.2,332.5 809.6,334.2C809.9,335.8 810.0,336.4 809.6,337.5C809.1,338.6 807.8,340.0 806.8,340.8C805.7,341.6 804.6,342.1 803.4,342.1C802.3,342.2 801.2,341.4 800.1,341.1C799.1,340.8 798.0,340.2 797.3,340.5C796.6,340.7 796.3,342.0 796.0,342.4C795.7,342.9 795.2,342.5 795.7,343.3C796.2,344.1 797.8,346.1 799.0,347.5C800.2,348.8 802.0,350.2 803.1,351.6C804.2,353.0 805.0,354.1 805.6,355.7C806.2,357.4 806.4,359.5 806.8,361.5C807.1,363.6 807.4,366.1 807.8,368.2C808.1,370.2 808.2,372.4 808.9,374.0C809.7,375.6 811.0,376.4 812.3,377.8C813.5,379.2 815.0,381.0 816.4,382.3C817.8,383.6 819.2,384.7 820.5,385.6C821.9,386.5 823.2,387.1 824.7,387.6C826.2,388.0 828.1,387.8 829.7,388.1C831.2,388.3 832.7,388.2 833.8,388.9C834.9,389.6 835.5,390.8 836.3,392.2C837.1,393.6 837.9,395.6 838.8,397.2C839.6,398.7 840.7,400.1 841.3,401.3C841.8,402.5 841.4,403.3 842.1,404.3C842.8,405.3 844.2,406.2 845.4,407.1C846.6,408.0 848.2,408.5 849.5,409.6C850.9,410.7 852.6,412.4 853.7,413.7C854.8,415.1 855.5,416.4 856.2,417.9C856.9,419.4 857.3,421.4 857.8,422.9C858.4,424.3 858.5,425.2 859.5,426.5C860.4,427.8 862.0,429.6 863.6,430.8C865.3,432.0 867.3,432.7 869.4,433.6C871.5,434.5 874.1,435.2 876.0,436.1C878.0,437.0 879.6,437.8 881.0,439.1C882.5,440.3 883.4,442.6 884.7,443.6C885.9,444.5 887.1,444.6 888.5,444.7C889.8,444.8 891.4,444.7 892.6,444.1C893.9,443.5 894.8,441.9 895.9,441.1C897.0,440.2 898.0,439.4 899.2,439.1C900.5,438.8 902.3,438.9 903.4,439.4C904.5,440.0 905.0,441.2 905.9,442.4C906.7,443.6 907.5,445.7 908.4,446.9C909.2,448.1 909.7,449.3 910.8,449.7C911.9,450.1 913.6,449.0 915.0,449.0C916.4,449.0 918.0,448.9 919.1,449.7C920.2,450.4 921.2,451.9 921.6,453.5C922.0,455.1 921.3,457.4 921.6,459.3C921.9,461.2 922.6,463.3 923.3,465.1C924.0,466.9 924.8,468.5 925.8,470.1C926.7,471.6 927.8,473.4 929.1,474.5C930.3,475.7 931.8,476.4 933.2,476.7C934.6,477.0 935.8,476.8 937.4,476.2C938.9,475.7 940.5,474.5 942.3,473.4C944.1,472.2 946.3,470.4 948.1,469.2C949.9,468.1 952.0,466.9 953.1,466.3C954.2,465.6 953.9,465.4 955.0,465.1C956.1,464.9 958.4,464.6 959.6,464.9C960.8,465.2 961.5,465.8 962.2,466.8C962.9,467.9 963.5,469.6 963.9,471.4C964.3,473.3 964.7,475.8 964.8,478.0C964.9,480.2 964.6,482.6 964.4,484.5C964.3,486.5 963.8,488.0 963.9,489.8C964.0,491.5 964.2,493.1 964.8,495.0C965.4,496.9 966.5,499.0 967.4,500.9C968.4,502.8 969.5,504.6 970.7,506.1C971.9,507.7 973.3,508.9 974.6,510.1C976.0,511.3 977.4,512.0 978.6,513.3C979.7,514.6 980.8,516.2 981.5,517.9C982.1,519.7 982.3,521.7 982.2,523.8C982.2,525.9 981.8,528.3 981.2,530.4C980.6,532.4 979.3,534.3 978.6,536.3C977.8,538.2 977.1,540.1 976.6,542.2C976.1,544.2 975.7,546.5 975.7,548.7C975.7,550.9 975.9,553.4 976.6,555.2C977.3,557.1 978.5,558.3 979.9,559.8C981.3,561.4 983.4,563.2 985.1,564.4C986.9,565.7 988.8,566.8 990.4,567.3C991.9,567.8 992.8,567.7 994.3,567.3C995.8,566.9 997.8,566.0 999.5,565.1C1001.3,564.2 1003.2,563.0 1004.8,561.8C1006.3,560.6 1007.6,559.4 1008.7,557.9C1009.8,556.3 1010.7,554.8 1011.3,552.6C1012.0,550.4 1012.2,547.4 1012.6,544.8C1013.1,542.2 1013.4,539.5 1013.9,536.9C1014.5,534.3 1015.6,530.4 1015.9,529.1"/>
<path class="nat" style="stroke-width:3.5" d="M83.7,890.0L95.0,891.4L102.5,892.8L110.9,900.8L118.4,909.2L124.9,920.4L132.4,931.7L142.7,944.4L134.3,952.3L124.9,961.6L116.5,970.0L111.8,976.6L109.0,989.7L107.7,1000.9L108.4,1010.3L109.0,1019.6L112.7,1027.1L118.4,1035.5"/>
<path class="ring" pathLength="2709.3" d="M539.1,114.19999999999999 A430.8,430.8 0 1 0 539.1,975.8 A430.8,430.8 0 1 0 539.1,114.19999999999999"/>
<path class="ring" pathLength="1355.1" d="M539.1,329.65 A215.35,215.35 0 1 0 539.1,760.35 A215.35,215.35 0 1 0 539.1,329.65"/>
<path d="M536.9,546H542.1M539.5,543V549.1" stroke="#000" stroke-width="3.4" stroke-linecap="round" fill="none"/>
</g>
<text x="302.6" y="117.2" font-size="19.44" font-weight="bold">16 km</text>
<text x="422.6" y="312.2" font-size="19.44" font-weight="bold">8 km</text>
<rect x="85.5" y="45.5" width="930.0" height="988.9000000000001" fill="none" stroke="#000" stroke-width="1.1"/>
<text x="550.0" y="38.0" font-size="34.75" text-anchor="middle">08.01.2026 07:13 UTC</text>
<text class="tk" transform="translate(162.6,1054.6) scale(0.905,1)" text-anchor="middle">5.9°E</text>
<text class="tk" transform="translate(356.3,1054.6) scale(0.905,1)" text-anchor="middle">6°E</text>
<text class="tk" transform="translate(550.0,1054.6) scale(0.905,1)" text-anchor="middle">6.1°E</text>
<text class="tk" transform="translate(743.8,1054.6) scale(0.905,1)" text-anchor="middle">6.2°E</text>
<text class="tk" transform="translate(937.5,1054.6) scale(0.905,1)" text-anchor="middle">6.3°E</text>
<text class="tk" transform="translate(78.2,80.2) scale(0.905,1)" text-anchor="end">50°N</text>
<text class="tk" transform="translate(78.2,231.1) scale(0.905,1)" text-anchor="end">49.95°N</text>
<text class="tk" transform="translate(78.2,381.1) scale(0.905,1)" text-anchor="end">49.9°N</text>
<text class="tk" transform="translate(78.2,531.1) scale(0.905,1)" text-anchor="end">49.85°N</text>
<text class="tk" transform="translate(78.2,680.1) scale(0.905,1)" text-anchor="end">49.8°N</text>
<text class="tk" transform="translate(78.2,829.8) scale(0.905,1)" text-anchor="end">49.75°N</text>
<text class="tk" transform="translate(78.2,979.1) scale(0.905,1)" text-anchor="end">49.7°N</text>
<rect x="1073.5" y="958.12" width="45.0" height="32.67" fill="#6478a8" shape-rendering="crispEdges"/>
<rect x="1073.5" y="925.95" width="45.0" height="32.67" fill="#5468a0" shape-rendering="crispEdges"/>
<rect x="1073.5" y="893.77" width="45.0" height="32.67" fill="#4460a0" shape-rendering="crispEdges"/>
<rect x="1073.5" y="861.60" width="45.0" height="32.67" fill="#4a7db4" shape-rendering="crispEdges"/>
<rect x="1073.5" y="829.42" width="45.0" height="32.67" fill="#5aa0c8" shape-rendering="crispEdges"/>
<rect x="1073.5" y="797.25" width="45.0" height="32.67" fill="#64c0dc" shape-rendering="crispEdges"/>
<rect x="1073.5" y="765.08" width="45.0" height="32.67" fill="#64d8c4" shape-rendering="crispEdges"/>
<rect x="1073.5" y="732.90" width="45.0" height="32.67" fill="#40d870" shape-rendering="crispEdges"/>
<rect x="1073.5" y="700.72" width="45.0" height="32.67" fill="#14c81e" shape-rendering="crispEdges"/>
<rect x="1073.5" y="668.55" width="45.0" height="32.67" fill="#12b518" shape-rendering="crispEdges"/>
<rect x="1073.5" y="636.38" width="45.0" height="32.67" fill="#10a014" shape-rendering="crispEdges"/>
<rect x="1073.5" y="604.20" width="45.0" height="32.67" fill="#0e8a12" shape-rendering="crispEdges"/>
<rect x="1073.5" y="572.02" width="45.0" height="32.67" fill="#0b7510" shape-rendering="crispEdges"/>
<rect x="1073.5" y="539.85" width="45.0" height="32.67" fill="#07600f" shape-rendering="crispEdges"/>
<rect x="1073.5" y="507.68" width="45.0" height="32.67" fill="#4a7c0c" shape-rendering="crispEdges"/>
<rect x="1073.5" y="475.50" width="45.0" height="32.67" fill="#b0b010" shape-rendering="crispEdges"/>
<rect x="1073.5" y="443.33" width="45.0" height="32.67" fill="#ffd800" shape-rendering="crispEdges"/>
<rect x="1073.5" y="411.15" width="45.0" height="32.67" fill="#ffb900" shape-rendering="crispEdges"/>
<rect x="1073.5" y="378.98" width="45.0" height="32.67" fill="#ff9d00" shape-rendering="crispEdges"/>
<rect x="1073.5" y="346.80" width="45.0" height="32.67" fill="#ff8000" shape-rendering="crispEdges"/>
<rect x="1073.5" y="314.62" width="45.0" height="32.67" fill="#e60000" shape-rendering="crispEdges"/>
<rect x="1073.5" y="282.45" width="45.0" height="32.67" fill="#c00000" shape-rendering="crispEdges"/>
<rect x="1073.5" y="250.27" width="45.0" height="32.67" fill="#a00000" shape-rendering="crispEdges"/>
<rect x="1073.5" y="218.10" width="45.0" height="32.67" fill="#7b0000" shape-rendering="crispEdges"/>
<rect x="1073.5" y="185.93" width="45.0" height="32.67" fill="#ffe0ff" shape-rendering="crispEdges"/>
<rect x="1073.5" y="153.75" width="45.0" height="32.67" fill="#ffb3ff" shape-rendering="crispEdges"/>
<rect x="1073.5" y="121.58" width="45.0" height="32.67" fill="#fb66fb" shape-rendering="crispEdges"/>
<rect x="1073.5" y="89.40" width="45.0" height="32.67" fill="#ee33ee" shape-rendering="crispEdges"/>
<rect x="1073.5" y="89.4" width="45.0" height="900.9" fill="none" stroke="#000" stroke-width="1.1"/>
<line x1="1118.5" y1="990.3" x2="1123.4" y2="990.3" stroke="#000" stroke-width="1.1"/>
<text class="cb" transform="translate(1129.3,1000.9) scale(0.955,1)">0</text>
<line x1="1118.5" y1="861.6" x2="1123.4" y2="861.6" stroke="#000" stroke-width="1.1"/>
<text class="cb" transform="translate(1129.3,872.2) scale(0.955,1)">10</text>
<line x1="1118.5" y1="732.9" x2="1123.4" y2="732.9" stroke="#000" stroke-width="1.1"/>
<text class="cb" transform="translate(1129.3,743.5) scale(0.955,1)">20</text>
<line x1="1118.5" y1="604.2" x2="1123.4" y2="604.2" stroke="#000" stroke-width="1.1"/>
<text class="cb" transform="translate(1129.3,614.8) scale(0.955,1)">30</text>
<line x1="1118.5" y1="475.5" x2="1123.4" y2="475.5" stroke="#000" stroke-width="1.1"/>
<text class="cb" transform="translate(1129.3,486.1) scale(0.955,1)">40</text>
<line x1="1118.5" y1="346.8" x2="1123.4" y2="346.8" stroke="#000" stroke-width="1.1"/>
<text class="cb" transform="translate(1129.3,357.4) scale(0.955,1)">50</text>
<line x1="1118.5" y1="218.1" x2="1123.4" y2="218.1" stroke="#000" stroke-width="1.1"/>
<text class="cb" transform="translate(1129.3,228.7) scale(0.955,1)">60</text>
<line x1="1118.5" y1="89.4" x2="1123.4" y2="89.4" stroke="#000" stroke-width="1.1"/>
<text class="cb" transform="translate(1129.3,100.0) scale(0.955,1)">70</text>
<text transform="translate(1191.9,542.2) rotate(-90) scale(0.925,1)" font-size="29.5" text-anchor="middle">dBZ</text>
</svg></body></html>
